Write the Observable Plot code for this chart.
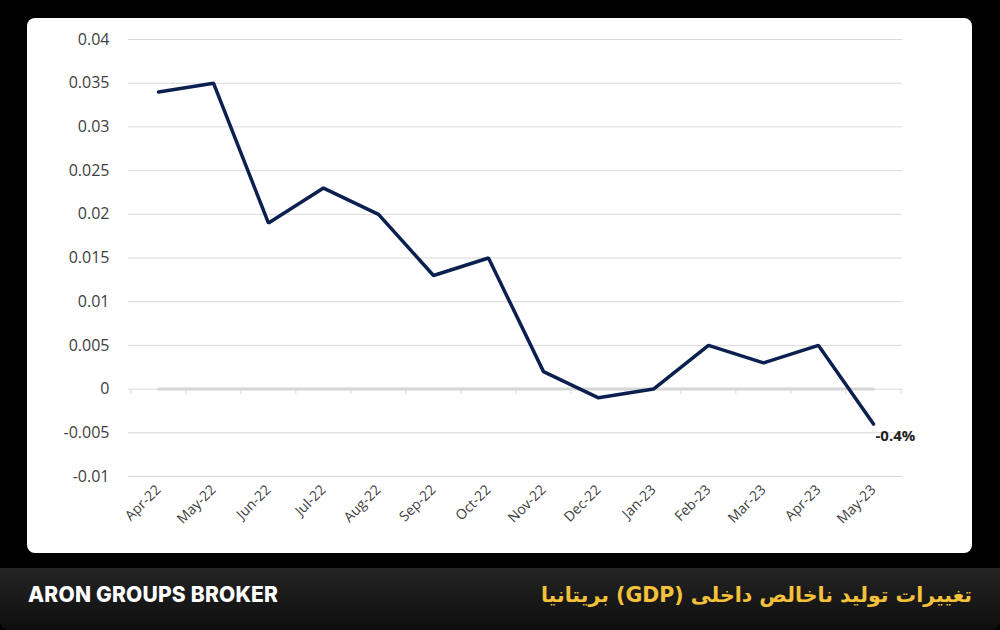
<!DOCTYPE html>
<html><head><meta charset="utf-8">
<script src="https://cdn.jsdelivr.net/npm/d3@7"></script>
<script src="https://cdn.jsdelivr.net/npm/@observablehq/plot@0.6"></script>
<style>
html,body{margin:0;padding:0;background:#000;width:1000px;height:630px;overflow:hidden;}
#panel{position:absolute;left:27px;top:18px;width:945px;height:535px;background:#fff;border-radius:8px;overflow:hidden;}
#footer{position:absolute;left:0;top:568px;width:1000px;height:62px;background:linear-gradient(#242424,#0e0e0e);border-radius:0 0 8px 8px;}
#brand{position:absolute;left:28px;top:0;line-height:54px;color:#fff;font-family:Inter,"Noto Sans",sans-serif;font-weight:800;font-size:21px;letter-spacing:0.2px;}
#title{position:absolute;right:28px;top:0;line-height:54px;color:#f4c23a;font-family:"DejaVu Sans",sans-serif;font-weight:bold;font-size:20.5px;direction:rtl;}
</style>
</head><body>
<div id="panel"></div>
<div id="footer"><div id="brand">ARON GROUPS BROKER</div><div id="title">تغییرات تولید ناخالص داخلی (GDP) بریتانیا</div></div>
<script>
const months = ["Apr-22","May-22","Jun-22","Jul-22","Aug-22","Sep-22","Oct-22","Nov-22","Dec-22","Jan-23","Feb-23","Mar-23","Apr-23","May-23"];
const gdp = [0.034, 0.035, 0.019, 0.023, 0.020, 0.013, 0.015, 0.002, -0.001, 0.000, 0.005, 0.003, 0.005, -0.004];
const yTicks = [-0.01, -0.005, 0, 0.005, 0.01, 0.015, 0.02, 0.025, 0.03, 0.035, 0.04];
const endLabel = "-0.4%";

const data = months.map((m, i) => ({month: m, value: gdp[i]}));
const W = 945, H = 535, ML = 101, MR = 70;
const half = (W - ML - MR) / months.length / 2;

const chart = Plot.plot({
  width: W, height: H,
  marginLeft: ML, marginRight: MR, marginTop: 21, marginBottom: 77,
  style: {fontFamily: "'Open Sans', sans-serif", background: "transparent"},
  x: {type: "point", domain: months, padding: 0.5, label: null},
  y: {domain: [-0.01, 0.04], label: null},
  marks: [
    Plot.gridY(yTicks, {stroke: "#d9d9d9", strokeOpacity: 1, strokeWidth: 1}),
    Plot.line(months, {x: d => d, y: () => 0, stroke: "#d6d6d6", strokeWidth: 3}),
    Plot.ruleX(months, {x: d => d, dx: -half, y1: 0, y2: -0.0006, stroke: "#d9d9d9"}),
    Plot.ruleX([months[months.length - 1]], {x: d => d, dx: half, y1: 0, y2: -0.0006, stroke: "#d9d9d9"}),
    Plot.axisY(yTicks, {tickSize: 0, tickPadding: 19, fontSize: 16, fill: "#404040", tickFormat: d => String(+d.toFixed(3))}),
    Plot.axisX({tickSize: 0, tickPadding: 11, tickRotate: -45, fontSize: 14, fill: "#404040", label: null}),
    Plot.line(data, {x: "month", y: "value", stroke: "#0c2050", strokeWidth: 3.5, strokeLinejoin: "miter"}),
    Plot.text([data[data.length - 1]], {x: "month", y: "value", text: () => endLabel, textAnchor: "start", dx: 2, dy: 12, fontWeight: "bold", fontSize: 15, fill: "#222"})
  ]
});
document.getElementById("panel").appendChild(chart);
</script>
</body></html>
